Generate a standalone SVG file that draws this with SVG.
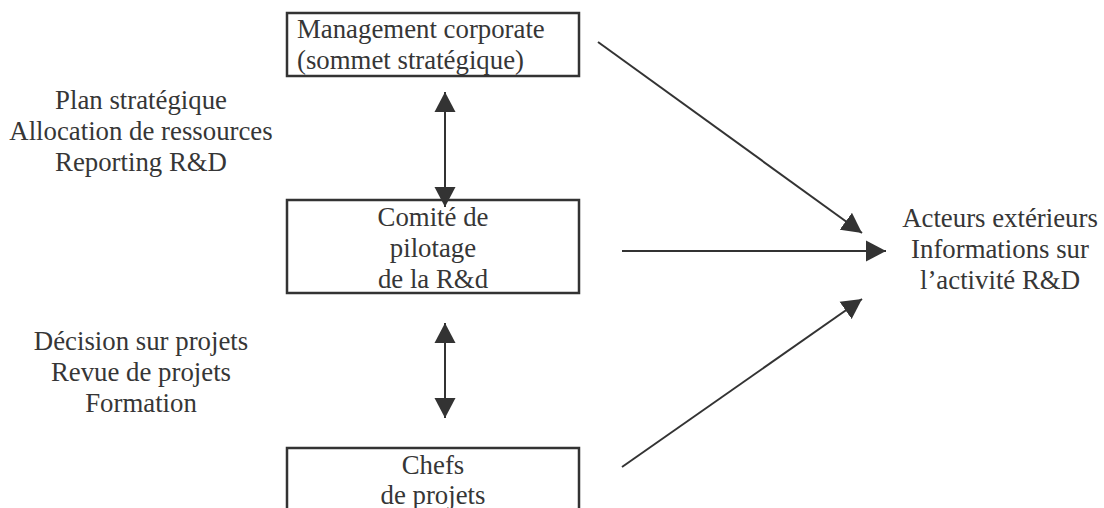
<svg xmlns="http://www.w3.org/2000/svg" width="1104" height="508" viewBox="0 0 1104 508">
<defs>
<style>
.box{fill:#fff;stroke:#333;stroke-width:2.5}
.t{font-family:'Liberation Serif','Times New Roman',serif;font-size:26.8px;fill:#363636}
.c{text-anchor:middle}
.ln{stroke:#333;stroke-width:2;fill:none}
</style>
<marker id="ah" markerUnits="userSpaceOnUse" markerWidth="21" markerHeight="22" refX="20" refY="11" orient="auto-start-reverse" viewBox="0 0 21 22">
<path d="M0,0.5 L20,11 L0,21.5 z" fill="#333"/>
</marker>
</defs>
<rect width="1104" height="508" fill="#fff"/>
<g id="n-management">
<rect class="box" x="287" y="13" width="292" height="63"/>
<text class="t" x="297" y="38">Management corporate</text>
<text class="t" x="297" y="69">(sommet stratégique)</text>
</g>
<g id="n-comite">
<rect class="box" x="287" y="200" width="292" height="93"/>
<text class="t c" x="433" y="226">Comité de</text>
<text class="t c" x="433" y="257">pilotage</text>
<text class="t c" x="433" y="288">de la R&amp;d</text>
</g>
<g id="n-chefs">
<rect class="box" x="287" y="448" width="292" height="80"/>
<text class="t c" x="433" y="474">Chefs</text>
<text class="t c" x="433" y="504">de projets</text>
</g>
<g id="n-acteurs">
<text class="t c" x="1000" y="227">Acteurs extérieurs</text>
<text class="t c" x="1000" y="258">Informations sur</text>
<text class="t c" x="1000" y="289">l’activité R&amp;D</text>
</g>
<g id="l-flux1">
<text class="t c" x="141" y="109">Plan stratégique</text>
<text class="t c" x="141" y="140">Allocation de ressources</text>
<text class="t c" x="141" y="171">Reporting R&amp;D</text>
</g>
<g id="l-flux2">
<text class="t c" x="141" y="350">Décision sur projets</text>
<text class="t c" x="141" y="381">Revue de projets</text>
<text class="t c" x="141" y="412">Formation</text>
</g>
<g id="connectors">
<line class="ln" x1="445" y1="92" x2="445" y2="207" marker-start="url(#ah)" marker-end="url(#ah)"/>
<line class="ln" x1="445" y1="323" x2="445" y2="418" marker-start="url(#ah)" marker-end="url(#ah)"/>
<line class="ln" x1="598" y1="42" x2="862" y2="233" marker-end="url(#ah)"/>
<line class="ln" x1="622" y1="251" x2="886" y2="251" marker-end="url(#ah)"/>
<line class="ln" x1="622" y1="467" x2="862" y2="299" marker-end="url(#ah)"/>
</g>
</svg>
